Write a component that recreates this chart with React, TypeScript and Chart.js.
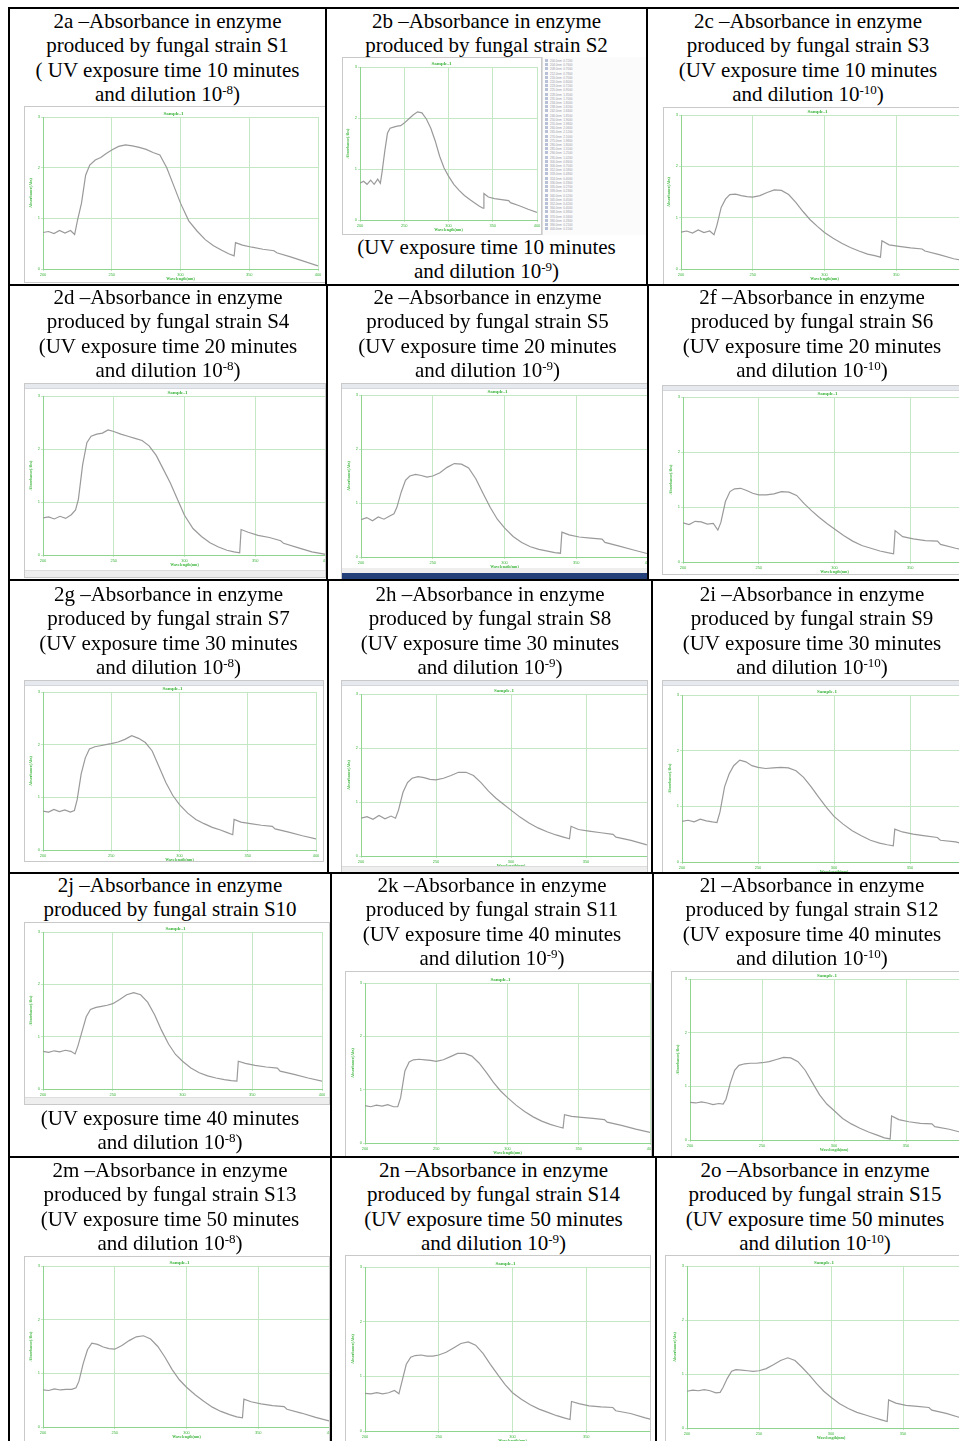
import React, { useEffect, useRef } from "react";
import { Chart, registerables } from "chart.js";

Chart.register(...registerables);

// ---------------- DATA ----------------
const WAVELENGTHS = [200, 204, 208, 212, 216, 220, 223, 225, 228, 231, 234, 238, 242, 246, 250, 255, 260, 265, 270, 275, 280, 285, 290, 295, 300, 306, 312, 318, 324, 330, 335, 339, 340, 345, 352, 360, 368, 370, 380, 390, 400];
const X_TICKS = [200, 250, 300, 350, 400];
const Y_TICKS = [0, 1, 2, 3];

const S1 = [0.72, 0.74, 0.70, 0.76, 0.71, 0.76, 0.68, 0.95, 1.30, 1.85, 2.05, 2.15, 2.20, 2.28, 2.35, 2.42, 2.45, 2.43, 2.40, 2.36, 2.30, 2.25, 2.00, 1.65, 1.30, 0.95, 0.75, 0.58, 0.46, 0.37, 0.30, 0.26, 0.52, 0.47, 0.43, 0.39, 0.36, 0.32, 0.24, 0.15, 0.06];
const S2 = [0.72, 0.76, 0.70, 0.78, 0.70, 0.80, 0.72, 0.95, 1.35, 1.70, 1.80, 1.82, 1.84, 1.85, 1.90, 1.98, 2.06, 2.12, 2.10, 1.98, 1.80, 1.55, 1.25, 1.02, 0.86, 0.70, 0.58, 0.48, 0.40, 0.33, 0.27, 0.23, 0.52, 0.45, 0.42, 0.40, 0.38, 0.34, 0.28, 0.21, 0.15];
const S3 = [0.72, 0.74, 0.70, 0.76, 0.71, 0.74, 0.67, 0.85, 1.20, 1.36, 1.45, 1.46, 1.43, 1.41, 1.40, 1.43, 1.49, 1.54, 1.53, 1.45, 1.30, 1.12, 0.96, 0.83, 0.71, 0.60, 0.50, 0.42, 0.35, 0.29, 0.26, 0.23, 0.55, 0.47, 0.44, 0.41, 0.39, 0.35, 0.28, 0.20, 0.15];
const S4 = [0.70, 0.72, 0.68, 0.73, 0.69, 0.76, 0.85, 1.05, 1.70, 2.12, 2.24, 2.28, 2.30, 2.36, 2.33, 2.28, 2.24, 2.20, 2.16, 2.06, 1.88, 1.62, 1.36, 1.05, 0.75, 0.50, 0.35, 0.23, 0.15, 0.09, 0.06, 0.04, 0.48, 0.43, 0.37, 0.33, 0.27, 0.22, 0.14, 0.06, 0.01];
const S5 = [0.69, 0.73, 0.67, 0.74, 0.70, 0.76, 0.80, 0.92, 1.20, 1.42, 1.50, 1.53, 1.51, 1.48, 1.50, 1.56, 1.66, 1.73, 1.72, 1.65, 1.45, 1.18, 0.92, 0.70, 0.54, 0.38, 0.27, 0.19, 0.14, 0.11, 0.08, 0.07, 0.46, 0.41, 0.37, 0.35, 0.33, 0.27, 0.20, 0.13, 0.06];
const S6 = [0.71, 0.68, 0.74, 0.73, 0.69, 0.70, 0.58, 0.72, 1.10, 1.28, 1.33, 1.34, 1.30, 1.25, 1.22, 1.22, 1.24, 1.28, 1.27, 1.21, 1.06, 0.93, 0.81, 0.70, 0.60, 0.48, 0.38, 0.30, 0.25, 0.20, 0.17, 0.15, 0.57, 0.46, 0.42, 0.39, 0.38, 0.32, 0.25, 0.19, 0.14];
const S7 = [0.74, 0.72, 0.77, 0.73, 0.76, 0.72, 0.75, 0.95, 1.45, 1.75, 1.92, 1.96, 1.98, 2.00, 2.02, 2.05, 2.10, 2.17, 2.12, 2.04, 1.88, 1.58, 1.28, 1.04, 0.86, 0.70, 0.58, 0.50, 0.43, 0.38, 0.33, 0.29, 0.58, 0.53, 0.50, 0.47, 0.45, 0.40, 0.34, 0.27, 0.21];
const S8 = [0.70, 0.73, 0.68, 0.75, 0.69, 0.74, 0.70, 0.85, 1.18, 1.36, 1.44, 1.47, 1.45, 1.42, 1.41, 1.44, 1.49, 1.55, 1.55, 1.49, 1.36, 1.20, 1.07, 0.96, 0.85, 0.72, 0.61, 0.52, 0.45, 0.39, 0.35, 0.32, 0.55, 0.49, 0.46, 0.43, 0.40, 0.35, 0.29, 0.21, 0.16];
const S9 = [0.73, 0.75, 0.72, 0.77, 0.74, 0.72, 0.71, 0.90, 1.35, 1.58, 1.73, 1.83, 1.80, 1.73, 1.70, 1.68, 1.69, 1.70, 1.69, 1.64, 1.52, 1.35, 1.16, 0.98, 0.82, 0.68, 0.56, 0.47, 0.39, 0.34, 0.31, 0.29, 0.59, 0.54, 0.50, 0.47, 0.44, 0.39, 0.36, 0.29, 0.22];
const S10 = [0.72, 0.70, 0.73, 0.71, 0.74, 0.72, 0.67, 0.82, 1.10, 1.38, 1.52, 1.56, 1.58, 1.60, 1.63, 1.71, 1.80, 1.84, 1.80, 1.66, 1.42, 1.12, 0.86, 0.66, 0.53, 0.40, 0.31, 0.25, 0.21, 0.18, 0.16, 0.15, 0.53, 0.49, 0.45, 0.42, 0.40, 0.34, 0.28, 0.21, 0.15];
const S11 = [0.70, 0.68, 0.71, 0.69, 0.72, 0.68, 0.68, 0.85, 1.35, 1.52, 1.56, 1.57, 1.56, 1.55, 1.53, 1.56, 1.62, 1.68, 1.68, 1.63, 1.50, 1.33, 1.14, 0.98, 0.85, 0.71, 0.59, 0.49, 0.41, 0.35, 0.31, 0.28, 0.53, 0.50, 0.48, 0.46, 0.44, 0.39, 0.33, 0.26, 0.20];
const S12 = [0.70, 0.69, 0.71, 0.69, 0.66, 0.68, 0.67, 0.76, 1.06, 1.30, 1.39, 1.42, 1.43, 1.43, 1.44, 1.46, 1.50, 1.54, 1.53, 1.46, 1.30, 1.07, 0.84, 0.67, 0.55, 0.40, 0.30, 0.22, 0.15, 0.09, 0.04, 0.02, 0.45, 0.38, 0.34, 0.31, 0.30, 0.25, 0.20, 0.13, 0.08];
const S13 = [0.69, 0.68, 0.71, 0.69, 0.70, 0.70, 0.73, 0.85, 1.18, 1.44, 1.56, 1.54, 1.49, 1.46, 1.45, 1.52, 1.61, 1.68, 1.70, 1.64, 1.50, 1.30, 1.07, 0.88, 0.74, 0.60, 0.48, 0.37, 0.29, 0.23, 0.19, 0.17, 0.52, 0.47, 0.43, 0.40, 0.38, 0.33, 0.26, 0.18, 0.11];
const S14 = [0.69, 0.68, 0.70, 0.68, 0.70, 0.74, 0.68, 0.90, 1.22, 1.35, 1.38, 1.39, 1.37, 1.37, 1.39, 1.44, 1.52, 1.60, 1.63, 1.57, 1.42, 1.22, 1.03, 0.85, 0.70, 0.58, 0.48, 0.40, 0.34, 0.28, 0.24, 0.21, 0.54, 0.50, 0.46, 0.44, 0.43, 0.37, 0.32, 0.24, 0.17];
const S15 = [0.68, 0.70, 0.69, 0.71, 0.69, 0.65, 0.66, 0.75, 0.92, 1.05, 1.08, 1.07, 1.06, 1.05, 1.06, 1.10, 1.17, 1.25, 1.30, 1.25, 1.12, 0.98, 0.82, 0.68, 0.57, 0.45, 0.36, 0.29, 0.24, 0.19, 0.15, 0.12, 0.52, 0.46, 0.42, 0.40, 0.38, 0.33, 0.27, 0.19, 0.12];

const LETTERS = ["a", "b", "c", "d", "e", "f", "g", "h", "i", "j", "k", "l", "m", "n", "o"];
const MINUTES = [10, 10, 10, 20, 20, 20, 30, 30, 30, 40, 40, 40, 50, 50, 50];
const DILUTIONS = ["-8", "-9", "-10", "-8", "-9", "-10", "-8", "-9", "-10", "-8", "-9", "-10", "-8", "-9", "-10"];
const SERIES = [S1, S2, S3, S4, S5, S6, S7, S8, S9, S10, S11, S12, S13, S14, S15];

// ---------------- STYLE / LAYOUT ----------------
const SERIF = "'Liberation Serif', serif";
const GREEN_TEXT = "#3db53d";
const GRID = "#c4e8c4";
const BORDER = "#8fd48f";
const LINE = "#9a9a9a";

type Box = [number, number, number, number];
type Plot = [number, number, number, number];

interface ChartSpec {
  box: Box;
  plot: Plot;
  toolbar?: boolean;
  status?: "gray" | "blue";
  panel?: Box;
}

const CHART_LAYOUT: ChartSpec[] = [
  { box: [24, 106, 302, 177], plot: [43, 117, 318, 269] },
  { box: [342, 57, 200, 178], plot: [360, 67, 537, 220], panel: [542, 57, 106, 178] },
  { box: [663, 107, 310, 178], plot: [681, 115, 968, 269] },
  { box: [24, 383, 302, 195], plot: [43, 396, 326, 555], toolbar: true, status: "gray" },
  { box: [341, 383, 307, 197], plot: [361, 395, 648, 557], toolbar: true, status: "blue" },
  { box: [662, 385, 310, 190], plot: [683, 397, 986, 562], toolbar: true },
  { box: [24, 680, 300, 182], plot: [43, 692, 316, 850], toolbar: true },
  { box: [341, 680, 307, 194], plot: [361, 694, 661, 856], toolbar: true, status: "gray" },
  { box: [662, 680, 310, 193], plot: [682, 695, 986, 862], toolbar: true },
  { box: [24, 922, 306, 183], plot: [43, 932, 322, 1089], status: "gray" },
  { box: [345, 971, 307, 186], plot: [365, 983, 650, 1143] },
  { box: [671, 971, 300, 186], plot: [690, 979, 978, 1140] },
  { box: [24, 1256, 306, 190], plot: [43, 1266, 330, 1427] },
  { box: [345, 1255, 306, 190], plot: [365, 1267, 660, 1431] },
  { box: [665, 1255, 310, 190], plot: [687, 1266, 975, 1428] },
];

interface CapSpec { l: number; r: number; top: number; bottomTop?: number }
const CAPTION_LAYOUT: CapSpec[] = [
  { l: 9, r: 326, top: 9 },
  { l: 326, r: 647, top: 9, bottomTop: 235 },
  { l: 647, r: 969, top: 9 },
  { l: 9, r: 327, top: 285 },
  { l: 327, r: 648, top: 285 },
  { l: 648, r: 976, top: 285 },
  { l: 9, r: 328, top: 582 },
  { l: 328, r: 652, top: 582 },
  { l: 652, r: 972, top: 582 },
  { l: 9, r: 331, top: 873, bottomTop: 1106 },
  { l: 331, r: 653, top: 873 },
  { l: 653, r: 971, top: 873 },
  { l: 9, r: 331, top: 1158 },
  { l: 331, r: 656, top: 1158 },
  { l: 656, r: 974, top: 1158 },
];

const Y_AXIS_W = 14;
const X_AXIS_H = 12;
const TITLE_H = 7;

function Spectrum({ values, spec }: { values: number[]; spec: ChartSpec }) {
  const ref = useRef<HTMLCanvasElement>(null);
  const [bx, by, bw, bh] = spec.box;
  const [pl, pt, pr, pb] = spec.plot;
  const cw = Math.max(bw, pr - bx + 8);
  const ch = bh;
  useEffect(() => {
    if (!ref.current) return;
    const tickFont = { size: 4, family: "Liberation Sans" };
    const chart = new Chart(ref.current, {
      type: "line",
      data: {
        datasets: [
          {
            data: WAVELENGTHS.map((w, i) => ({ x: w, y: values[i] })),
            borderColor: LINE,
            borderWidth: 1.2,
            pointRadius: 0,
            tension: 0,
            fill: false,
          },
        ],
      },
      options: {
        animation: false,
        responsive: false,
        events: [],
        layout: {
          padding: {
            left: pl - bx - Y_AXIS_W,
            top: pt - by - TITLE_H,
            right: cw - (pr - bx),
            bottom: ch - (pb - by) - X_AXIS_H,
          },
        },
        plugins: {
          legend: { display: false },
          tooltip: { enabled: false },
          title: {
            display: true,
            text: "Sample-1",
            color: GREEN_TEXT,
            font: { size: 5, lineHeight: 1, family: "Liberation Serif", weight: "bold" },
            padding: { top: 1, bottom: 1 },
          },
        },
        scales: {
          x: {
            type: "linear",
            min: X_TICKS[0],
            max: X_TICKS[X_TICKS.length - 1],
            afterBuildTicks: (s: any) => {
              s.ticks = X_TICKS.map((v) => ({ value: v }));
            },
            afterFit: (s: any) => {
              s.height = X_AXIS_H;
            },
            ticks: { font: tickFont, color: GREEN_TEXT, maxRotation: 0, autoSkip: false, padding: 1 },
            grid: { color: GRID, tickLength: 2, lineWidth: 1 },
            border: { color: BORDER, width: 1 },
            title: { display: true, text: "Wavelength(nm)", color: GREEN_TEXT, font: { size: 4, weight: "bold", family: "Liberation Serif" }, padding: 0 },
          },
          y: {
            type: "linear",
            min: Y_TICKS[0],
            max: Y_TICKS[Y_TICKS.length - 1],
            afterBuildTicks: (s: any) => {
              s.ticks = Y_TICKS.map((v) => ({ value: v }));
            },
            afterFit: (s: any) => {
              s.width = Y_AXIS_W;
            },
            ticks: { font: tickFont, color: GREEN_TEXT, autoSkip: false, padding: 1 },
            grid: { color: GRID, tickLength: 2, lineWidth: 1 },
            border: { color: BORDER, width: 1 },
            title: { display: true, text: "Absorbance(Abs)", color: GREEN_TEXT, font: { size: 4, weight: "bold", family: "Liberation Serif" }, padding: 0 },
          },
        },
      } as any,
    });
    return () => chart.destroy();
  }, []);

  return (
    <div
      style={{
        position: "absolute",
        left: bx,
        top: by,
        width: bw,
        height: bh,
        overflow: "hidden",
        background: "#fff",
        border: "1px solid #c9c9c9",
        boxSizing: "border-box",
      }}
    >
      <canvas ref={ref} width={cw} height={ch} style={{ position: "absolute", left: -1, top: -1, width: cw, height: ch }} />
      {spec.toolbar && (
        <div style={{ position: "absolute", left: 0, top: 0, width: "100%", height: 4, background: "#e6e9ee", borderBottom: "1px solid #d4d8de" }} />
      )}
      {spec.status === "gray" && (
        <div style={{ position: "absolute", left: 0, bottom: 0, width: "100%", height: 6, background: "#eeeeee", borderTop: "1px solid #dddddd" }} />
      )}
      {spec.status === "blue" && (
        <>
          <div style={{ position: "absolute", left: 0, bottom: 6, width: "100%", height: 5, background: "#eeeeee" }} />
          <div style={{ position: "absolute", left: 0, bottom: 0, width: "100%", height: 6, background: "#23407a" }} />
        </>
      )}
    </div>
  );
}

function DataPanel({ box }: { box: Box }) {
  const [x, y, w, h] = box;
  return (
    <div
      style={{
        position: "absolute",
        left: x,
        top: y,
        width: w,
        height: h,
        overflow: "hidden",
        background: "#fbfbfb",
        borderLeft: "1px solid #dcdcdc",
        fontFamily: "Liberation Sans",
        fontSize: 3,
        lineHeight: "4.2px",
        color: "#9a9aa8",
        paddingTop: 2,
        boxSizing: "border-box",
      }}
    >
      {WAVELENGTHS.map((wl, i) => (
        <div key={i} style={{ whiteSpace: "nowrap", paddingLeft: 2 }}>
          <span style={{ display: "inline-block", width: 3, height: 3, background: "#b8c0d8", marginRight: 2 }} />
          {wl.toFixed(1)}nm&nbsp;&nbsp;{S2[i].toFixed(4)}
        </div>
      ))}
    </div>
  );
}

function Caption({ l, r, top, lines }: { l: number; r: number; top: number; lines: React.ReactNode[] }) {
  return (
    <div
      style={{
        position: "absolute",
        left: l,
        width: r - l,
        top,
        textAlign: "center",
        fontFamily: SERIF,
        fontSize: 21,
        lineHeight: "24.3px",
        color: "#000",
        whiteSpace: "nowrap",
      }}
    >
      {lines.map((ln, i) => (
        <div key={i}>{ln}</div>
      ))}
    </div>
  );
}

function Line({ x, y, w, h }: { x: number; y: number; w: number; h: number }) {
  return <div style={{ position: "absolute", left: x, top: y, width: w, height: h, background: "#000" }} />;
}

const ROW_LINES = [7, 284, 579, 872, 1156];
const COL_LINES: [number, number, number][] = [
  [325, 7, 285],
  [646, 7, 285],
  [326, 284, 580],
  [647, 284, 580],
  [327, 579, 873],
  [651, 579, 873],
  [330, 872, 1157],
  [652, 872, 1157],
  [330, 1156, 1441],
  [655, 1156, 1441],
];

export default function App() {
  return (
    <div style={{ position: "absolute", left: 0, top: 0, width: 959, height: 1441, overflow: "hidden", background: "#fff" }}>
      {SERIES.map((vals, i) => (
        <Spectrum key={"c" + i} values={vals} spec={CHART_LAYOUT[i]} />
      ))}
      {CHART_LAYOUT.map((s, i) => (s.panel ? <DataPanel key={"p" + i} box={s.panel} /> : null))}
      {LETTERS.map((letter, i) => {
        const cap = CAPTION_LAYOUT[i];
        const head = [`2${letter} –Absorbance in enzyme`, `produced by fungal strain S${i + 1}`];
        const tail = [
          `(${i === 0 ? " " : ""}UV exposure time ${MINUTES[i]} minutes`,
          <span>
            and dilution 10<sup style={{ fontSize: "62%", lineHeight: 0, verticalAlign: "7px" }}>{DILUTIONS[i]}</sup>)
          </span>,
        ];
        if (cap.bottomTop !== undefined) {
          return (
            <React.Fragment key={"t" + i}>
              <Caption l={cap.l} r={cap.r} top={cap.top} lines={head} />
              <Caption l={cap.l} r={cap.r} top={cap.bottomTop} lines={tail} />
            </React.Fragment>
          );
        }
        return <Caption key={"t" + i} l={cap.l} r={cap.r} top={cap.top} lines={[...head, ...tail]} />;
      })}
      {ROW_LINES.map((y, i) => (
        <Line key={"r" + i} x={8} y={y} w={951} h={2} />
      ))}
      <Line x={8} y={7} w={2} h={1434} />
      {COL_LINES.map(([x, y1, y2], i) => (
        <Line key={"v" + i} x={x} y={y1} w={2} h={y2 - y1} />
      ))}
    </div>
  );
}
